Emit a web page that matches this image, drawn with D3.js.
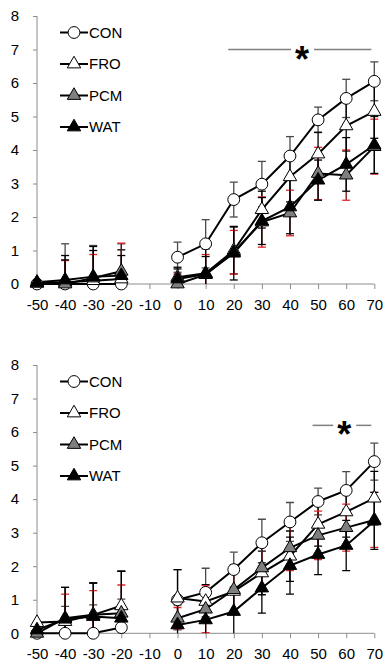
<!DOCTYPE html>
<html>
<head>
<meta charset="utf-8">
<script src="https://cdn.jsdelivr.net/npm/d3@7/dist/d3.min.js"></script>
<style>
  html, body { margin: 0; padding: 0; background: #fff; }
  svg { display: block; }
  text { font-family: "Liberation Sans", Arial, sans-serif; fill: #000; }
</style>
</head>
<body>
<svg id="chart" width="383" height="666"></svg>
<script>
// Time points (min); -10 has no measurement
const times = [-50, -40, -30, -20, -10, 0, 10, 20, 30, 40, 50, 60, 70];
const xTicks = [-50, -40, -30, -20, -10, 0, 10, 20, 30, 40, 50, 60, 70];
const yTicks = [0, 1, 2, 3, 4, 5, 6, 7, 8];
const groups = ["CON", "FRO", "PCM", "WAT"];

// Panel A means and SD
const conA = [0, 0, 0, 0, null, 0.8, 1.2, 2.52, 2.98, 3.82, 4.9, 5.54, 6.05];
const conAsd = [0, 1.2, 1.15, 1.2, null, 0.45, 0.72, 0.52, 0.68, 0.58, 0.38, 0.57, 0.58];
const froA = [0.02, 0.05, 0.1, 0.15, null, 0.2, 0.32, 1.0, 2.22, 3.2, 3.88, 4.72, 5.15];
const froAsd = [0, 0.8, 0.9, 0.87, null, 0.3, 0.5, 0.7, 0.55, 0.75, 0.65, 0.75, 0.8];
const pcmA = [0.03, 0, 0.18, 0.38, null, 0, 0.28, 0.95, 1.85, 2.12, 3.3, 3.25, 4.1];
const pcmAsd = [0, 0.7, 0.7, 0.84, null, 0.3, 0.6, 0.65, 0.75, 0.68, 0.78, 0.75, 0.82];
const watA = [0.05, 0.12, 0.22, 0.25, null, 0.15, 0.3, 0.92, 1.88, 2.3, 3.1, 3.57, 4.15];
const watAsd = [0.05, 0.6, 0.9, 0.6, null, 0.3, 0.75, 0.8, 0.7, 0.8, 0.6, 0.8, 0.85];

// Panel B means and SD
const conB = [0, 0, 0, 0.17, null, 1.0, 1.22, 1.9, 2.7, 3.32, 3.93, 4.26, 5.12];
const conBsd = [0, 0.8, 0.85, 0.85, null, 0.9, 0.72, 0.52, 0.7, 0.58, 0.4, 0.56, 0.55];
const froB = [0.32, 0.35, 0.55, 0.82, null, 1.05, 0.95, 1.25, 1.8, 2.3, 3.25, 3.62, 4.03];
const froBsd = [0, 1.02, 0.95, 1.03, null, 0.85, 0.5, 0.6, 0.65, 0.75, 0.65, 0.75, 0.8];
const pcmB = [0, 0.45, 0.55, 0.6, null, 0.45, 0.72, 1.3, 1.95, 2.55, 2.92, 3.15, 3.38];
const pcmBsd = [0, 0.72, 0.72, 0.84, null, 0.32, 0.7, 0.75, 0.7, 0.68, 0.72, 0.7, 0.82];
const watB = [0.1, 0.42, 0.5, 0.45, null, 0.25, 0.4, 0.65, 1.35, 2.02, 2.35, 2.62, 3.35];
const watBsd = [0.1, 0.95, 1.0, 1.4, null, 0.6, 0.85, 0.7, 0.75, 0.85, 0.6, 0.75, 0.85];

// Significance bracket: time range and height on the value axis
const sigA = [20, 70, 7.0];
const sigB = [50, 70, 6.2];

const styles = {
  CON: { shape: d3.symbolCircle, size: 110, fill: "#ffffff", err: "#4a4a4a", cap: "#4a4a4a" },
  FRO: { shape: d3.symbolTriangle, size: 78, fill: "#ffffff", err: "#000000", cap: "#000000" },
  PCM: { shape: d3.symbolTriangle, size: 78, fill: "#7f7f7f", err: "#7a0c0c", cap: "#e8222a" },
  WAT: { shape: d3.symbolTriangle, size: 78, fill: "#000000", err: "#000000", cap: "#000000" }
};

const svg = d3.select("#chart");
const axisColor = "#8c8c8c";
const fmt = d => String(d);

function drawPanel(id, top, bottom, series, sig) {
  const g = svg.append("g");
  const x = d3.scaleLinear().domain([-50, 70]).range([37, 374.3]);
  const y = d3.scaleLinear().domain([0, 8]).range([bottom, top]);

  g.append("clipPath").attr("id", "clip" + id)
    .append("rect").attr("x", 0).attr("y", top).attr("width", 383).attr("height", bottom - top);

  // Y axis
  const yAxis = g.append("g").attr("transform", "translate(37,0)")
    .call(d3.axisLeft(y).tickValues(yTicks).tickSize(4).tickFormat(fmt));
  yAxis.select(".domain").attr("stroke", axisColor).attr("d", `M0,${bottom}V${top}`);
  yAxis.selectAll(".tick line").attr("stroke", axisColor);
  yAxis.selectAll(".tick text").attr("x", -18).attr("font-size", 15)
    .attr("font-family", "Liberation Sans, Arial, sans-serif").attr("fill", "#000");

  // X axis
  const xAxis = g.append("g").attr("transform", `translate(0,${bottom})`)
    .call(d3.axisBottom(x).tickValues(xTicks).tickSize(5).tickFormat(fmt));
  xAxis.select(".domain").attr("stroke", axisColor).attr("d", `M${x(-50)},0H${x(70)}`);
  xAxis.selectAll(".tick line").attr("stroke", axisColor);
  xAxis.selectAll(".tick text").attr("y", 15).attr("font-size", 15)
    .attr("font-family", "Liberation Sans, Arial, sans-serif").attr("fill", "#000");

  // Error bars
  const eb = g.append("g").attr("clip-path", `url(#clip${id})`);
  series.forEach(s => {
    const st = styles[s.name];
    const pts = times.map((t, i) => ({ t, v: s.values[i], sd: s.sd[i] }))
      .filter(d => d.v != null && d.sd > 0);
    const sg = eb.append("g");
    sg.selectAll("line.v").data(pts).join("line")
      .attr("x1", d => x(d.t)).attr("x2", d => x(d.t))
      .attr("y1", d => y(d.v - d.sd)).attr("y2", d => y(d.v + d.sd))
      .attr("stroke", st.err).attr("stroke-width", 1.3);
    ["lo", "hi"].forEach(k => {
      sg.selectAll("line.c" + k).data(pts).join("line")
        .attr("x1", d => x(d.t) - 4).attr("x2", d => x(d.t) + 4)
        .attr("y1", d => y(k === "lo" ? d.v - d.sd : d.v + d.sd))
        .attr("y2", d => y(k === "lo" ? d.v - d.sd : d.v + d.sd))
        .attr("stroke", st.cap).attr("stroke-width", 1.3);
    });
  });

  // Lines
  const line = d3.line().defined(d => d.v != null).x(d => x(d.t)).y(d => y(d.v));
  series.forEach(s => {
    g.append("path")
      .datum(times.map((t, i) => ({ t, v: s.values[i] })))
      .attr("d", line).attr("fill", "none").attr("stroke", "#000").attr("stroke-width", 2);
  });

  // Markers
  series.forEach(s => {
    const st = styles[s.name];
    const pts = times.map((t, i) => ({ t, v: s.values[i] })).filter(d => d.v != null);
    g.append("g").selectAll("path").data(pts).join("path")
      .attr("d", d3.symbol().type(st.shape).size(st.size))
      .attr("transform", d => `translate(${x(d.t)},${y(d.v)})`)
      .attr("fill", st.fill).attr("stroke", "#000").attr("stroke-width", 1);
  });

  // Legend
  const lg = g.append("g");
  groups.forEach((name, i) => {
    const st = styles[name];
    const ly = top + 16.5 + i * 31.5;
    lg.append("line").attr("x1", 60).attr("x2", 88).attr("y1", ly).attr("y2", ly)
      .attr("stroke", "#000").attr("stroke-width", 2);
    lg.append("path").attr("d", d3.symbol().type(st.shape).size(st.size))
      .attr("transform", `translate(74,${ly})`)
      .attr("fill", st.fill).attr("stroke", "#000").attr("stroke-width", 1);
    lg.append("text").attr("x", 89).attr("y", ly).attr("dy", "0.36em")
      .attr("font-size", 15).text(name);
  });

  // Significance marker
  const sy = y(sig[2]);
  const cx = (x(sig[0]) + x(sig[1])) / 2 - 2;
  g.append("line").attr("x1", x(sig[0]) - 5.5).attr("x2", cx - 11).attr("y1", sy).attr("y2", sy)
    .attr("stroke", "#7f7f7f").attr("stroke-width", 1.5);
  g.append("line").attr("x1", cx + 12).attr("x2", x(sig[1]) - 3).attr("y1", sy).attr("y2", sy)
    .attr("stroke", "#7f7f7f").attr("stroke-width", 1.5);
  g.append("text").attr("x", cx).attr("y", sy + 22).attr("text-anchor", "middle")
    .attr("font-size", 36).attr("font-weight", "bold")
    .attr("font-family", "Liberation Sans, Arial, sans-serif").text("*");
}

drawPanel("A", 16, 284, [
  { name: "CON", values: conA, sd: conAsd },
  { name: "FRO", values: froA, sd: froAsd },
  { name: "PCM", values: pcmA, sd: pcmAsd },
  { name: "WAT", values: watA, sd: watAsd }
], sigA);

drawPanel("B", 365, 633.3, [
  { name: "CON", values: conB, sd: conBsd },
  { name: "FRO", values: froB, sd: froBsd },
  { name: "PCM", values: pcmB, sd: pcmBsd },
  { name: "WAT", values: watB, sd: watBsd }
], sigB);
</script>
</body>
</html>
